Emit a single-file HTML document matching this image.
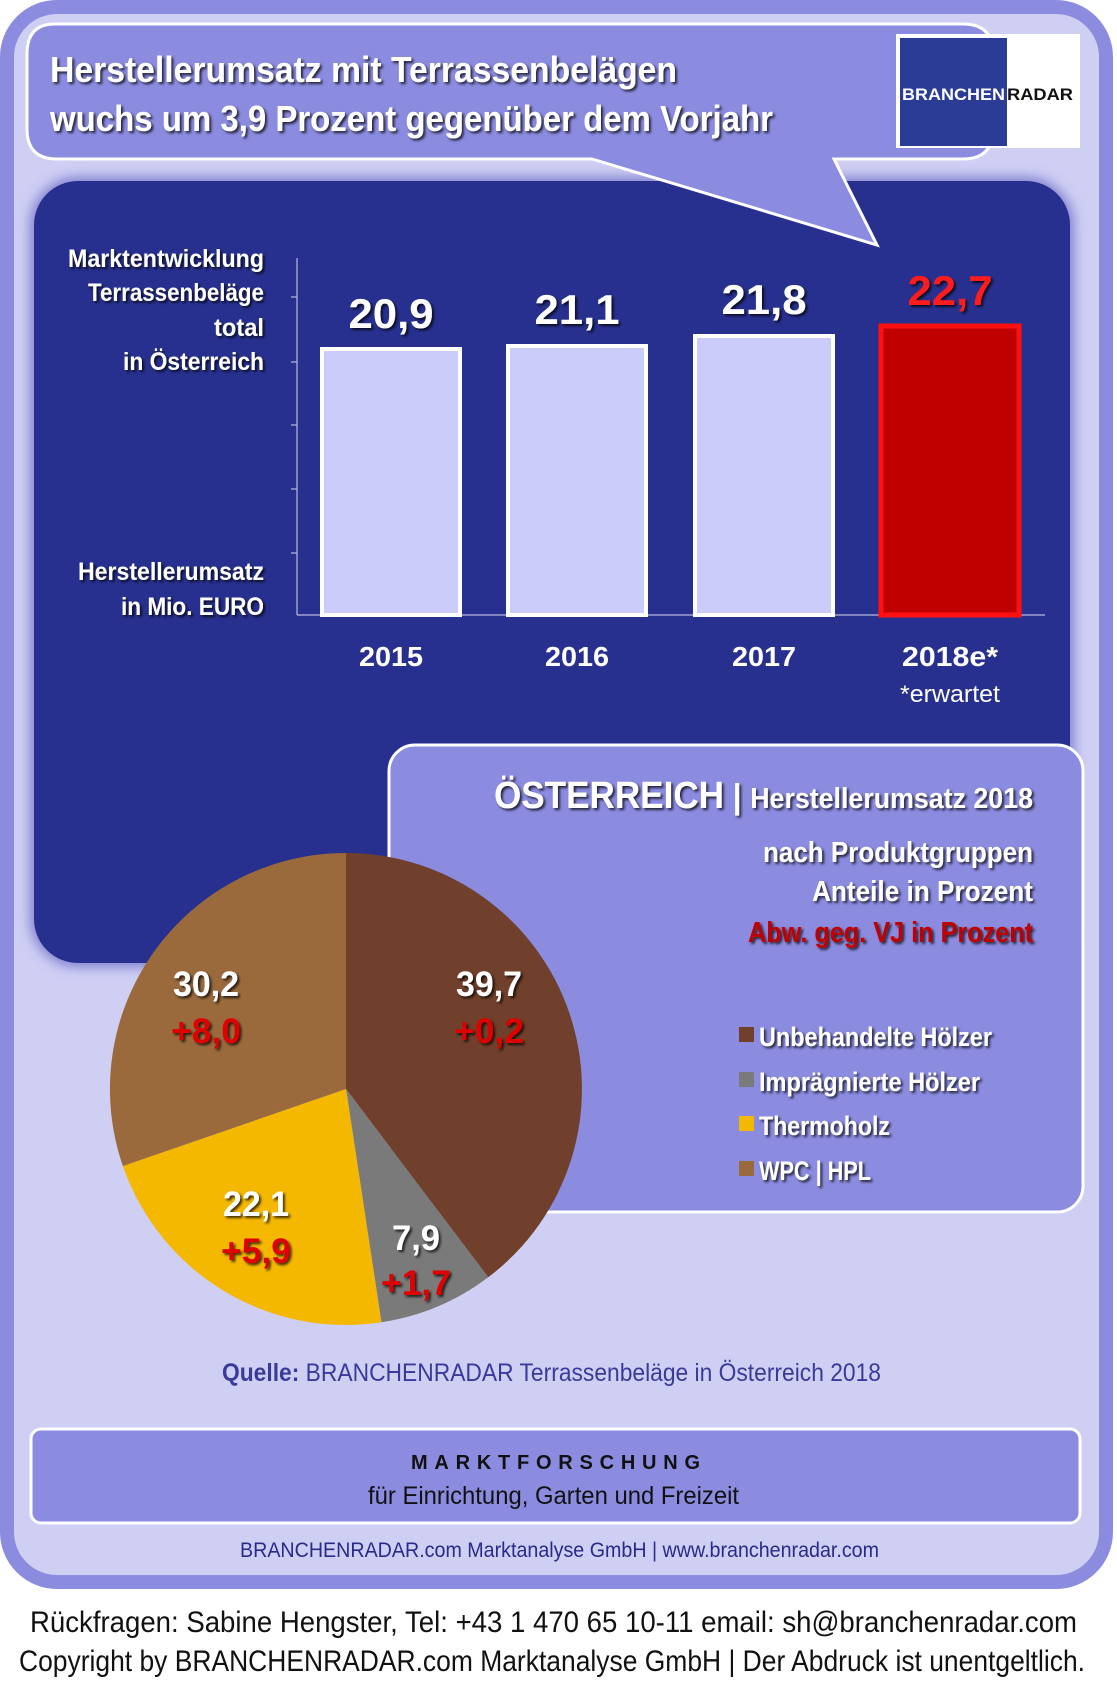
<!DOCTYPE html>
<html><head><meta charset="utf-8"><style>
html,body{margin:0;padding:0;background:#fff;}
svg{display:block;}
text{font-family:"Liberation Sans Narrow","Liberation Sans",sans-serif;}
</style></head><body>
<svg width="1117" height="1687" viewBox="0 0 1117 1687" xmlns="http://www.w3.org/2000/svg">
<defs>
<filter id="sh" x="-10%" y="-10%" width="130%" height="140%"><feDropShadow dx="2" dy="2" stdDeviation="1.2" flood-color="#000" flood-opacity="0.75"/></filter>
<filter id="glow" x="-5%" y="-5%" width="110%" height="110%"><feGaussianBlur stdDeviation="6"/></filter>
</defs>
<rect x="0" y="0" width="1117" height="1687" fill="#fff"/>
<rect x="7" y="7" width="1099" height="1575" rx="50" fill="#cfcff4" stroke="#8b8be0" stroke-width="14"/>
<rect x="30" y="177" width="1044" height="790" rx="48" fill="#8080d0" filter="url(#glow)"/>
<rect x="34" y="181" width="1036" height="782" rx="44" fill="#27308e"/>
<path d="M55,24 H963 Q993,24 993,54 V129 Q993,159 963,159 H834 L877,245 L592,159 H57 Q27,159 27,129 V54 Q27,24 55,24 Z" fill="#8b8be0" stroke="#fff" stroke-width="3"/>
<text x="50" y="82" font-size="36" font-weight="bold" fill="#fff" filter="url(#sh)" textLength="627" lengthAdjust="spacingAndGlyphs">Herstellerumsatz mit  Terrassenbelägen</text>
<text x="50" y="131" font-size="36" font-weight="bold" fill="#fff" filter="url(#sh)" textLength="723" lengthAdjust="spacingAndGlyphs">wuchs um 3,9 Prozent gegenüber dem Vorjahr</text>
<rect x="896" y="34" width="184" height="114" fill="#fff"/>
<rect x="900" y="38" width="107" height="108" fill="#2a3c96"/>
<text x="902" y="100" font-family="Liberation Sans" font-size="17" font-weight="bold" fill="#fff" textLength="103" lengthAdjust="spacingAndGlyphs">BRANCHEN</text>
<text x="1007" y="100" font-family="Liberation Sans" font-size="17" font-weight="bold" fill="#111" textLength="66" lengthAdjust="spacingAndGlyphs">RADAR</text>
<g font-size="25" font-weight="bold" fill="#fff" text-anchor="end" filter="url(#sh)">
<text x="264" y="267" textLength="196" lengthAdjust="spacingAndGlyphs">Marktentwicklung</text>
<text x="264" y="301" textLength="176" lengthAdjust="spacingAndGlyphs">Terrassenbeläge</text>
<text x="264" y="336" textLength="50" lengthAdjust="spacingAndGlyphs">total</text>
<text x="264" y="370" textLength="141" lengthAdjust="spacingAndGlyphs">in Österreich</text>
<text x="264" y="580" textLength="186" lengthAdjust="spacingAndGlyphs">Herstellerumsatz</text>
<text x="264" y="615" textLength="143" lengthAdjust="spacingAndGlyphs">in Mio. EURO</text>
</g>
<g stroke="#b8b8e0" stroke-width="1.2">
<line x1="297" y1="258" x2="297" y2="615"/>
<line x1="297" y1="615" x2="1045" y2="615"/>
<line x1="291" y1="297" x2="297" y2="297"/>
<line x1="291" y1="362" x2="297" y2="362"/>
<line x1="291" y1="425" x2="297" y2="425"/>
<line x1="291" y1="489" x2="297" y2="489"/>
<line x1="291" y1="553" x2="297" y2="553"/>
</g>
<rect x="322" y="349" width="138" height="266" fill="#ccccfa" stroke="#fff" stroke-width="4"/>
<rect x="508" y="346" width="138" height="269" fill="#ccccfa" stroke="#fff" stroke-width="4"/>
<rect x="695" y="336" width="138" height="279" fill="#ccccfa" stroke="#fff" stroke-width="4"/>
<rect x="881" y="326" width="138" height="289" fill="#c00000" stroke="#ff1010" stroke-width="5"/>
<g font-size="42" font-weight="bold" text-anchor="middle" filter="url(#sh)">
<text x="391" y="328" fill="#fff" textLength="85" lengthAdjust="spacingAndGlyphs">20,9</text>
<text x="577" y="324" fill="#fff" textLength="85" lengthAdjust="spacingAndGlyphs">21,1</text>
<text x="764" y="314" fill="#fff" textLength="85" lengthAdjust="spacingAndGlyphs">21,8</text>
<text x="950" y="305" fill="#ff1a1a" textLength="85" lengthAdjust="spacingAndGlyphs">22,7</text>
</g>
<g font-size="28" font-weight="bold" fill="#fff" text-anchor="middle">
<text x="391" y="666" textLength="64" lengthAdjust="spacingAndGlyphs">2015</text>
<text x="577" y="666" textLength="64" lengthAdjust="spacingAndGlyphs">2016</text>
<text x="764" y="666" textLength="64" lengthAdjust="spacingAndGlyphs">2017</text>
<text x="950" y="666" textLength="96" lengthAdjust="spacingAndGlyphs">2018e*</text>
</g>
<text x="950" y="702" font-size="24" fill="#fff" text-anchor="middle" textLength="100" lengthAdjust="spacingAndGlyphs">*erwartet</text>
<rect x="389" y="745" width="694" height="467" rx="26" fill="#8b8be0" stroke="#fff" stroke-width="3"/>
<g font-weight="bold" fill="#fff" text-anchor="end" filter="url(#sh)">
<text x="1033" y="808" textLength="539" lengthAdjust="spacingAndGlyphs"><tspan font-size="38">ÖSTERREICH</tspan><tspan font-size="34"> | </tspan><tspan font-size="29">Herstellerumsatz 2018</tspan></text>
<text x="1033" y="862" font-size="29" textLength="270" lengthAdjust="spacingAndGlyphs">nach Produktgruppen</text>
<text x="1033" y="901" font-size="29" textLength="221" lengthAdjust="spacingAndGlyphs">Anteile in Prozent</text>
<text x="1033" y="942" font-size="29" fill="#c00000" textLength="285" lengthAdjust="spacingAndGlyphs">Abw. geg. VJ in Prozent</text>
</g>
<rect x="739" y="1027" width="15" height="15" fill="#70402c"/>
<rect x="739" y="1072" width="15" height="15" fill="#7a7a7a"/>
<rect x="739" y="1116" width="15" height="15" fill="#f5b800"/>
<rect x="739" y="1161" width="15" height="15" fill="#9a6a3c"/>
<g font-size="27" font-weight="bold" fill="#fff" filter="url(#sh)">
<text x="759" y="1046" textLength="233" lengthAdjust="spacingAndGlyphs">Unbehandelte Hölzer</text>
<text x="759" y="1091" textLength="221" lengthAdjust="spacingAndGlyphs">Imprägnierte Hölzer</text>
<text x="759" y="1135" textLength="131" lengthAdjust="spacingAndGlyphs">Thermoholz</text>
<text x="759" y="1180" textLength="112" lengthAdjust="spacingAndGlyphs">WPC | HPL</text>
</g>
<path d="M346,1089 L346,853 A236,236 0 0 1 488.2,1277.3 Z" fill="#70402c"/>
<path d="M346,1089 L488.2,1277.3 A236,236 0 0 1 381.4,1322.3 Z" fill="#7a7a7a"/>
<path d="M346,1089 L381.4,1322.3 A236,236 0 0 1 122.9,1166.1 Z" fill="#f5b800"/>
<path d="M346,1089 L122.9,1166.1 A236,236 0 0 1 346,853 Z" fill="#9a6a3c"/>
<g font-size="35" font-weight="bold" text-anchor="middle" filter="url(#sh)">
<text x="489" y="996" fill="#fff" textLength="66" lengthAdjust="spacingAndGlyphs">39,7</text>
<text x="489" y="1043" fill="#e00000" textLength="70" lengthAdjust="spacingAndGlyphs">+0,2</text>
<text x="206" y="996" fill="#fff" textLength="66" lengthAdjust="spacingAndGlyphs">30,2</text>
<text x="206" y="1043" fill="#e00000" textLength="70" lengthAdjust="spacingAndGlyphs">+8,0</text>
<text x="256" y="1216" fill="#fff" textLength="66" lengthAdjust="spacingAndGlyphs">22,1</text>
<text x="256" y="1263" fill="#e00000" textLength="70" lengthAdjust="spacingAndGlyphs">+5,9</text>
<text x="416" y="1250" fill="#fff" textLength="48" lengthAdjust="spacingAndGlyphs">7,9</text>
<text x="416" y="1295" fill="#e00000" textLength="70" lengthAdjust="spacingAndGlyphs">+1,7</text>
</g>
<text x="222" y="1381" font-size="25" fill="#3a3a9a" textLength="659" lengthAdjust="spacingAndGlyphs"><tspan font-weight="bold">Quelle:</tspan> BRANCHENRADAR Terrassenbeläge in Österreich 2018</text>
<rect x="31" y="1429" width="1049" height="94" rx="10" fill="#8b8be0" stroke="#fff" stroke-width="3"/>
<text x="411" y="1469" font-size="20" font-weight="bold" fill="#111" textLength="289" lengthAdjust="spacing">MARKTFORSCHUNG</text>
<text x="368" y="1504" font-size="25" fill="#111" textLength="371" lengthAdjust="spacingAndGlyphs">für Einrichtung, Garten und Freizeit</text>
<text x="240" y="1557" font-size="21" fill="#2a2a8a" textLength="639" lengthAdjust="spacingAndGlyphs">BRANCHENRADAR.com Marktanalyse GmbH | www.branchenradar.com</text>
<text x="30" y="1632" font-size="30" fill="#111" textLength="1047" lengthAdjust="spacingAndGlyphs">Rückfragen: Sabine Hengster, Tel: +43 1 470 65 10-11 email: sh@branchenradar.com</text>
<text x="19" y="1671" font-size="30" fill="#111" textLength="1066" lengthAdjust="spacingAndGlyphs">Copyright by BRANCHENRADAR.com  Marktanalyse GmbH | Der Abdruck ist unentgeltlich.</text>
</svg>
</body></html>
